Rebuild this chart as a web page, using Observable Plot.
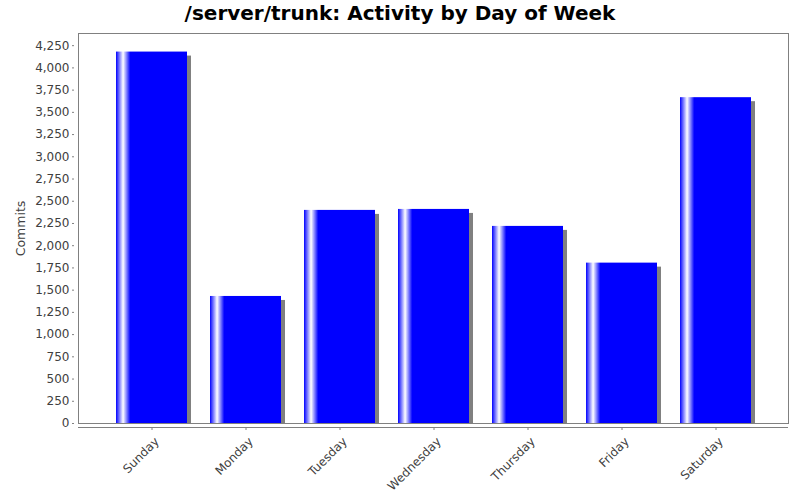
<!DOCTYPE html>
<html><head><meta charset="utf-8">
<script src="https://cdn.jsdelivr.net/npm/d3@7"></script>
<script src="https://cdn.jsdelivr.net/npm/@observablehq/plot@0.6"></script>
<style>
body{margin:0;background:#fff;font-family:"DejaVu Sans",sans-serif;}
#title{width:800px;height:28px;line-height:26px;text-align:center;font-weight:bold;font-size:20px;color:#000;}
#chart svg{display:block;}
</style></head><body>
<div id="title">/server/trunk: Activity by Day of Week</div>
<div id="chart"></div>
<script>
const days = ["Sunday", "Monday", "Tuesday", "Wednesday", "Thursday", "Friday", "Saturday"];
const commits = [4178, 1429, 2397, 2408, 2217, 1804, 3665];
const yTicks = [0, 250, 500, 750, 1000, 1250, 1500, 1750, 2000, 2250, 2500, 2750, 3000, 3250, 3500, 3750, 4000, 4250];
const yLabel = "Commits";

const data = days.map((day, i) => ({day, commits: commits[i]}));

const defs = () => {
  const d = d3.create("svg:defs");
  const g = d.append("linearGradient").attr("id", "barGrad")
    .attr("x1", 0).attr("x2", 1).attr("y1", 0).attr("y2", 0);
  [[0, "#0000ff"], [0.1, "#ffffff"], [0.2, "#0000ff"], [1, "#0000ff"]].forEach(([o, c]) =>
    g.append("stop").attr("offset", o).attr("stop-color", c));
  return d.node();
};

const chart = Plot.plot({
  width: 800, height: 472,
  marginTop: 5, marginLeft: 78, marginRight: 12, marginBottom: 77,
  style: {fontFamily: "DejaVu Sans", fontSize: "12px", background: "#fff", overflow: "visible"},
  x: {type: "band", domain: days, paddingInner: 0.25, paddingOuter: 0.375, label: null},
  y: {domain: [0, d3.max(commits) * 1.05], label: null},
  marks: [
    defs,
    Plot.barY(data, {x: "day", y: "commits", fill: "#808080", dx: 4, dy: 4, clip: true}),
    Plot.barY(data, {x: "day", y: "commits", fill: "url(#barGrad)"}),
    Plot.frame({stroke: "#808080"}),
    Plot.ruleY([0], {dy: 4, stroke: "#808080"}),
    Plot.axisY({ticks: yTicks, tickFormat: d3.format(","), tickSize: 2, tickPadding: 3, dx: -4,
      stroke: "#808080", fill: "#404040", label: null}),
    Plot.axisX({tickSize: 3, tickFormat: () => "", dy: 4, stroke: "#808080", label: null}),
    Plot.axisX({tickSize: 0, tickPadding: 12, tickRotate: -45, dy: 4, dx: 5,
      fill: "#404040", label: null}),
    Plot.text([yLabel], {text: d => d, frameAnchor: "left", textAnchor: "middle", dx: -58, rotate: -90,
      fontSize: 12.5, fill: "#404040"})
  ]
});
document.getElementById("chart").appendChild(chart);
</script>
</body></html>
